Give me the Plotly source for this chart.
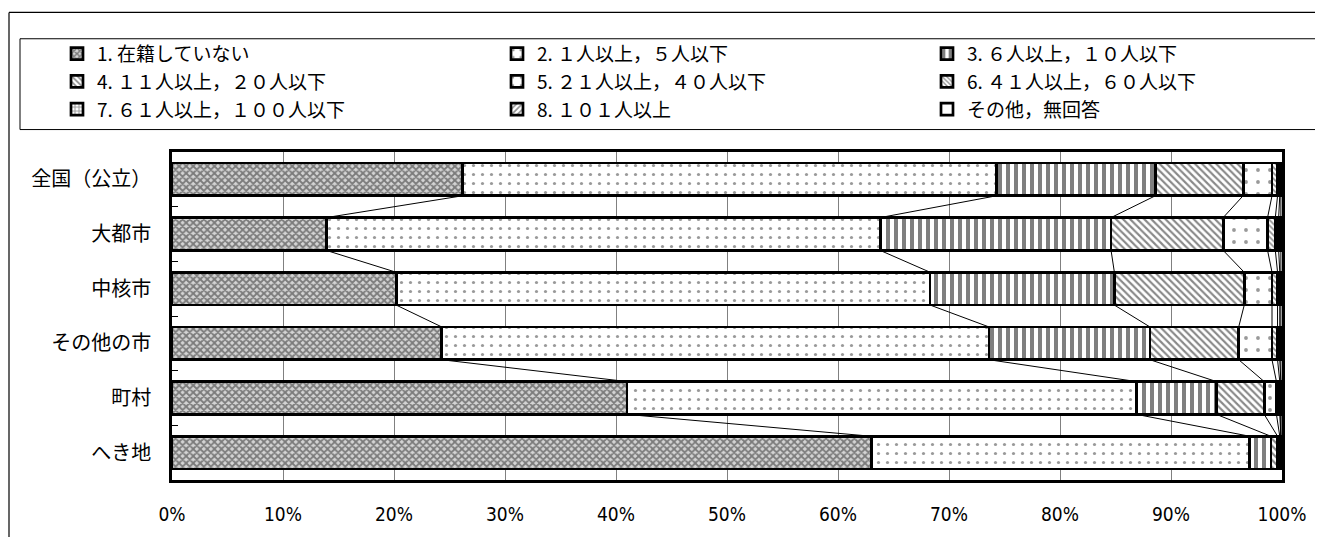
import plotly.graph_objects as go

categories = ["全国（公立）", "大都市", "中核市", "その他の市", "町村", "へき地"]
series_names = [
    "1. 在籍していない",
    "2. １人以上，５人以下",
    "3. ６人以上，１０人以下",
    "4. １１人以上，２０人以下",
    "5. ２１人以上，４０人以下",
    "6. ４１人以上，６０人以下",
    "7. ６１人以上，１００人以下",
    "8. １０１人以上",
    "その他，無回答",
]
s1 = [26.2, 13.9, 20.2, 24.3, 41.0, 63.0]
s2 = [48.1, 49.9, 48.1, 49.3, 45.9, 34.1]
s3 = [14.3, 20.8, 16.6, 14.5, 7.2, 1.9]
s4 = [7.9, 10.1, 11.7, 8.0, 4.3, 0.6]
s5 = [2.6, 4.0, 2.5, 3.0, 1.1, 0.2]
s6 = [0.5, 0.7, 0.5, 0.5, 0.3, 0.1]
s7 = [0.2, 0.3, 0.2, 0.2, 0.1, 0.0]
s8 = [0.1, 0.2, 0.1, 0.1, 0.0, 0.0]
s9 = [0.1, 0.1, 0.1, 0.1, 0.1, 0.1]
series_values = [s1, s2, s3, s4, s5, s6, s7, s8, s9]
x_ticks = [0, 10, 20, 30, 40, 50, 60, 70, 80, 90, 100]
x_tick_labels = ["0%", "10%", "20%", "30%", "40%", "50%", "60%", "70%", "80%", "90%", "100%"]

patterns = [
    dict(shape="x", fgcolor="#222222", bgcolor="#d4d4d4", size=5, solidity=0.6),
    dict(shape=".", fgcolor="#333333", bgcolor="white", size=9, solidity=0.1),
    dict(shape="|", fgcolor="black", bgcolor="white", size=8, solidity=0.5),
    dict(shape="\\", fgcolor="#111111", bgcolor="white", size=5, solidity=0.42),
    dict(shape=".", fgcolor="#333333", bgcolor="white", size=12, solidity=0.08),
    dict(shape="\\", fgcolor="#222222", bgcolor="white", size=4, solidity=0.45),
    dict(shape="+", fgcolor="#222222", bgcolor="white", size=5, solidity=0.4),
    dict(shape="/", fgcolor="#222222", bgcolor="white", size=5, solidity=0.4),
    dict(shape="", fgcolor="white", bgcolor="white", size=5, solidity=0.1),
]

FONT = "Noto Sans CJK JP"
OFF = 8  # page body margin
L, R, T, B, W, H = 164, 41, 144, 49, 1315, 529
PW, PH = W - L - R, H - T - B


def px_x(p):
    return (p - L) / PW


def px_y(p):
    return (H - B - p) / PH


ypos = list(range(len(categories)))
legend_names = ["legend", "legend2", "legend3"]
bar_w = 0.6

fig = go.Figure()
for i, (name, vals) in enumerate(zip(series_names, series_values)):
    fig.add_trace(go.Bar(
        name=name, x=vals, y=ypos, orientation="h", width=bar_w,
        marker=dict(color="white", line=dict(color="black", width=2.7),
                    pattern=patterns[i]),
        legend=legend_names[i % 3],
        hoverinfo="skip",
    ))

# series lines between adjacent bars
cums = []
for r in range(len(categories)):
    c, acc = [], 0.0
    for vals in series_values:
        acc += vals[r]
        c.append(acc)
    cums.append(c)
lx, ly = [], []
for r in range(len(categories) - 1):
    for k in range(len(series_values) - 1):
        lx += [cums[r][k], cums[r + 1][k], None]
        ly += [ypos[r] + bar_w / 2, ypos[r + 1] - bar_w / 2, None]
fig.add_trace(go.Scatter(x=lx, y=ly, mode="lines", line=dict(color="black", width=1),
                         showlegend=False, hoverinfo="skip"))

leg_common = dict(orientation="v", font=dict(family=FONT, size=19, color="black"),
                  bgcolor="rgba(0,0,0,0)", borderwidth=0, traceorder="normal",
                  xanchor="left", yanchor="top", y=px_y(24))
fig.update_layout(
    legend=dict(x=px_x(49), **leg_common),
    legend2=dict(x=px_x(489), **leg_common),
    legend3=dict(x=px_x(919), **leg_common),
)

fig.update_layout(
    width=W, height=H, autosize=False,
    margin=dict(l=L, r=R, t=T, b=B, pad=0),
    paper_bgcolor="white", plot_bgcolor="white",
    barmode="stack", bargap=0.4,
    font=dict(family=FONT, color="black"),
    xaxis=dict(range=[0, 100], tickvals=x_ticks, ticktext=x_tick_labels,
               showgrid=True, gridcolor="#808080", gridwidth=1.3,
               showline=True, linecolor="black", linewidth=2.5, mirror=True,
               ticks="", zeroline=False, ticklabelstandoff=15,
               tickfont=dict(family="Liberation Sans Narrow, DejaVu Sans Condensed, Liberation Sans",
                             size=19, color="black")),
    yaxis=dict(range=[len(categories) - 0.5, -0.5], tickvals=ypos, ticktext=categories,
               showgrid=False, zeroline=False, ticks="",
               showline=True, linecolor="black", linewidth=2.5, mirror=True,
               ticklabelstandoff=14,
               tickfont=dict(family=FONT, size=20, color="black"),
               minor=dict(tickvals=[p + 0.5 for p in ypos[:-1]], ticks="inside",
                          ticklen=6, tickcolor="black", tickwidth=1)),
    shapes=[
        dict(type="rect", xref="paper", yref="paper",
             x0=px_x(20 - OFF), x1=px_x(1316 - OFF), y0=px_y(129 - OFF), y1=px_y(36 - OFF),
             line=dict(color="black", width=1), fillcolor="rgba(0,0,0,0)"),
        dict(type="line", xref="paper", yref="paper",
             x0=px_x(9 - OFF), x1=px_x(1330), y0=px_y(9 - OFF), y1=px_y(9 - OFF),
             line=dict(color="black", width=1.2)),
        dict(type="line", xref="paper", yref="paper",
             x0=px_x(9 - OFF), x1=px_x(9 - OFF), y0=px_y(9 - OFF), y1=px_y(545),
             line=dict(color="black", width=1.2)),
    ],
)

fig.write_html("out.html")
